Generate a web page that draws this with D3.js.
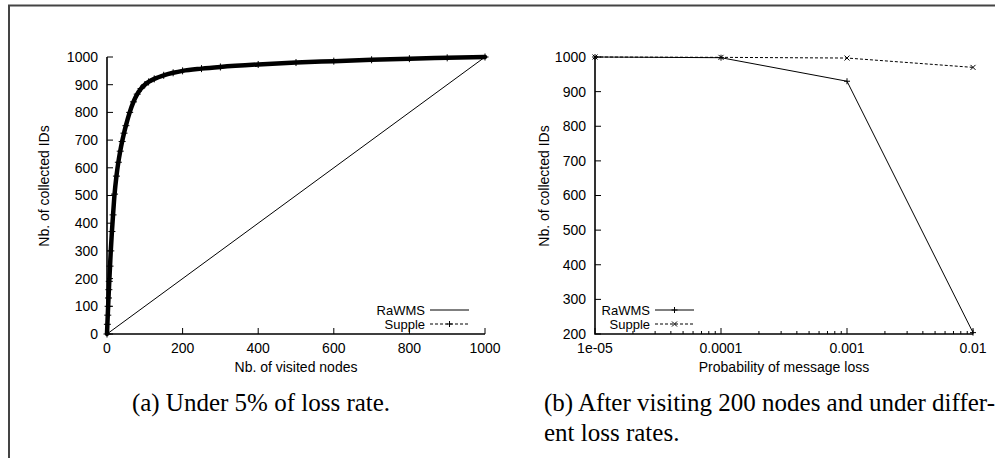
<!DOCTYPE html>
<html>
<head>
<meta charset="utf-8">
<script src="https://cdn.jsdelivr.net/npm/d3@7"></script>
<style>
  html, body { margin: 0; padding: 0; background: #fff; }
  svg { display: block; }
  .tick-label, .axis-title { font-family: "Liberation Sans", Arial, sans-serif; font-size: 14px; fill: #000; }
  .legend-text { font-family: "Liberation Sans", Arial, sans-serif; font-size: 13px; fill: #000; }
  .caption { font-family: "Liberation Serif", "Times New Roman", serif; font-size: 25px; fill: #000; }
</style>
</head>
<body>
<script>
// ---- (a) collected IDs vs visited nodes, 5% loss ----
const visitedNodes = [0, 1, 2, 3, 4, 5, 6, 8, 10, 13, 16, 20, 25, 30, 35, 40, 45, 50, 60, 70, 80, 90, 100, 110, 125, 150, 175, 200, 250, 300, 400, 500, 600, 700, 800, 900, 1000];
const suppleCollected = [0, 35, 68, 100, 130, 160, 190, 245, 300, 370, 430, 505, 570, 620, 660, 695, 725, 752, 800, 838, 866, 886, 900, 910, 921, 934, 943, 950, 958, 964, 973, 980, 985, 990, 994, 997, 1000];
const rawmsNodes = [0, 1000];
const rawmsCollected = [0, 1000];
const xTicksA = [0, 200, 400, 600, 800, 1000];
const yTicksA = [0, 100, 200, 300, 400, 500, 600, 700, 800, 900, 1000];

// ---- (b) collected IDs after 200 nodes vs loss probability ----
const lossProb = [1e-5, 1e-4, 1e-3, 1e-2];
const rawmsByLoss = [1000, 998, 930, 204];
const suppleByLoss = [1000, 999, 997, 970];
const xTicksB = [1e-5, 1e-4, 1e-3, 1e-2];
const xTickLabelsB = ["1e-05", "0.0001", "0.001", "0.01"];
const yTicksB = [200, 300, 400, 500, 600, 700, 800, 900, 1000];

const seriesNames = ["RaWMS", "Supple"];
const captionA = "(a) Under 5% of loss rate.";
const captionB = ["(b) After visiting 200 nodes and under differ-", "ent loss rates."];

const W = 995, H = 458;
const svg = d3.select("body").append("svg").attr("width", W).attr("height", H);

// page frame
svg.append("path")
  .attr("d", "M9,470 V5.5 H1000")
  .attr("fill", "none").attr("stroke", "#444").attr("stroke-width", 2);

const plusPath = s => `M${-s},0H${s}M0,${-s}V${s}`;
const crossPath = s => `M${-s},${-s}L${s},${s}M${-s},${s}L${s},${-s}`;
const DASH = "3,2";

function drawAxes(g, x, y, xTicks, xFmt, yTicks, minorX) {
  const [x0, x1] = x.range();
  const [y0, y1] = y.range();
  // y ticks (inward) and labels
  yTicks.forEach(v => {
    g.append("line").attr("x1", x0).attr("x2", x0 + 6).attr("y1", y(v)).attr("y2", y(v))
      .attr("stroke", "#000").attr("stroke-width", 1);
    g.append("text").attr("class", "tick-label").attr("x", x0 - 9).attr("y", y(v))
      .attr("dy", "0.35em").attr("text-anchor", "end").text(v);
  });
  // x ticks
  xTicks.forEach((v, i) => {
    g.append("line").attr("x1", x(v)).attr("x2", x(v)).attr("y1", y0).attr("y2", y0 - 6)
      .attr("stroke", "#000").attr("stroke-width", 1);
    g.append("text").attr("class", "tick-label").attr("x", x(v)).attr("y", y0 + 19)
      .attr("text-anchor", "middle").text(xFmt(v, i));
  });
  (minorX || []).forEach(v => {
    g.append("line").attr("x1", x(v)).attr("x2", x(v)).attr("y1", y0).attr("y2", y0 - 3)
      .attr("stroke", "#000").attr("stroke-width", 1);
  });
  // border: left and bottom
  g.append("path").attr("d", `M${x0},${y1}V${y0}H${x1}`)
    .attr("fill", "none").attr("stroke", "#000").attr("stroke-width", 1.6);
}

function legend(g, lx, ly, markers) {
  seriesNames.forEach((name, i) => {
    g.append("text").attr("class", "legend-text").attr("x", lx).attr("y", ly[i]).attr("dy", "0.35em")
      .attr("text-anchor", "end").text(name);
    g.append("line").attr("x1", lx + 5).attr("x2", lx + 44).attr("y1", ly[i]).attr("y2", ly[i])
      .attr("stroke", "#000").attr("stroke-width", 1)
      .attr("stroke-dasharray", i === 1 ? DASH : null);
    if (markers[i]) {
      g.append("path").attr("transform", `translate(${lx + 24.5},${ly[i]})`).attr("d", markers[i])
        .attr("stroke", "#000").attr("stroke-width", 1);
    }
  });
}

// ---------- chart (a) ----------
{
  const x = d3.scaleLinear().domain([0, 1000]).range([107, 485]);
  const y = d3.scaleLinear().domain([0, 1000]).range([334, 57]);
  const g = svg.append("g");

  // RaWMS: solid thin line
  const rawLine = d3.line().x((d, i) => x(rawmsNodes[i])).y(d => y(d));
  g.append("path").datum(rawmsCollected).attr("d", rawLine)
    .attr("fill", "none").attr("stroke", "#000").attr("stroke-width", 1);

  // Supple: dense points, drawn as thick band with + markers
  const supLine = d3.line().curve(d3.curveMonotoneX).x((d, i) => x(visitedNodes[i])).y(d => y(d));
  g.append("path").datum(suppleCollected).attr("d", supLine)
    .attr("fill", "none").attr("stroke", "#000").attr("stroke-width", 4.5).attr("stroke-linecap", "round");
  g.selectAll(".mk").data(suppleCollected).join("path")
    .attr("transform", (d, i) => `translate(${x(visitedNodes[i])},${y(d)})`)
    .attr("d", plusPath(3.5)).attr("stroke", "#000").attr("stroke-width", 1);

  drawAxes(g, x, y, xTicksA, v => v, yTicksA);

  g.append("text").attr("class", "axis-title").attr("x", 296).attr("y", 372)
    .attr("text-anchor", "middle").text("Nb. of visited nodes");
  g.append("text").attr("class", "axis-title")
    .attr("transform", "translate(49,186) rotate(-90)")
    .attr("text-anchor", "middle").text("Nb. of collected IDs");

  legend(g, 425, [310, 324], [null, plusPath(3)]);

  g.append("text").attr("class", "caption").attr("x", 261).attr("y", 411)
    .attr("text-anchor", "middle").text(captionA);
}

// ---------- chart (b) ----------
{
  const x = d3.scaleLog().domain([1e-5, 1e-2]).range([595, 973]);
  const y = d3.scaleLinear().domain([200, 1000]).range([334, 57]);
  const g = svg.append("g");

  const minor = [];
  for (let e = -5; e < -2; e++) for (let m = 2; m <= 9; m++) minor.push(m * Math.pow(10, e));

  const line = d3.line().x((d, i) => x(lossProb[i])).y(d => y(d));
  g.append("path").datum(rawmsByLoss).attr("d", line)
    .attr("fill", "none").attr("stroke", "#000").attr("stroke-width", 1);
  g.selectAll(".mr").data(rawmsByLoss).join("path")
    .attr("transform", (d, i) => `translate(${x(lossProb[i])},${y(d)})`)
    .attr("d", plusPath(3)).attr("stroke", "#000").attr("stroke-width", 1);

  g.append("path").datum(suppleByLoss).attr("d", line)
    .attr("fill", "none").attr("stroke", "#000").attr("stroke-width", 1).attr("stroke-dasharray", DASH);
  g.selectAll(".ms").data(suppleByLoss).join("path")
    .attr("transform", (d, i) => `translate(${x(lossProb[i])},${y(d)})`)
    .attr("d", crossPath(2.5)).attr("stroke", "#000").attr("stroke-width", 1);

  drawAxes(g, x, y, xTicksB, (v, i) => xTickLabelsB[i], yTicksB, minor);

  g.append("text").attr("class", "axis-title").attr("x", 784).attr("y", 372)
    .attr("text-anchor", "middle").text("Probability of message loss");
  g.append("text").attr("class", "axis-title")
    .attr("transform", "translate(549,186) rotate(-90)")
    .attr("text-anchor", "middle").text("Nb. of collected IDs");

  legend(g, 650, [310, 324], [plusPath(3), crossPath(2.5)]);

  g.append("text").attr("class", "caption").attr("x", 544).attr("y", 411).text(captionB[0]);
  g.append("text").attr("class", "caption").attr("x", 544).attr("y", 441).text(captionB[1]);
}
</script>
</body>
</html>
